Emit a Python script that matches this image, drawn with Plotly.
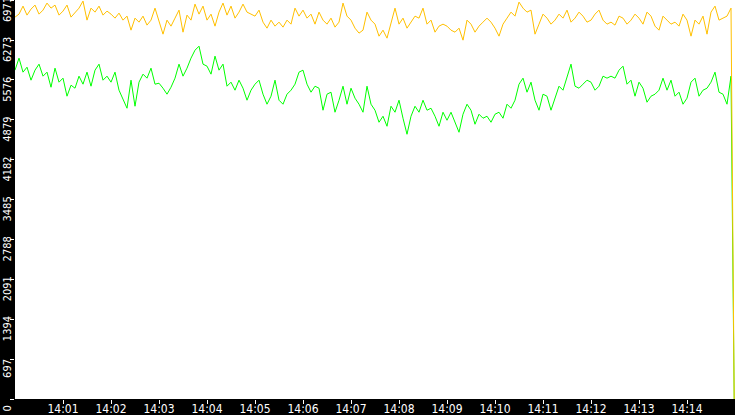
import pandas as pd
import plotly.graph_objects as go

# samples every 5 s from 14:00:00, last sample is the drop to 0
orange_vals = [
    6673, 6725, 6865, 6708, 6813, 6883, 6725, 6795, 6918, 6830, 6883, 6708, 6778, 6883, 6673, 6760, 6830, 6953,
    6620, 6830, 6760, 6865, 6708, 6778, 6725, 6655, 6743, 6620, 6690, 6445, 6655, 6585, 6690, 6533, 6620, 6830,
    6585, 6375, 6620, 6515, 6655, 6795, 6410, 6708, 6620, 6900, 6725, 6865, 6620, 6725, 6515, 6760, 6918, 6708,
    6865, 6655, 6760, 6900, 6760, 6725, 6690, 6795, 6585, 6480, 6620, 6515, 6585, 6498, 6620, 6550, 6830, 6690,
    6795, 6655, 6725, 6550, 6760, 6620, 6550, 6655, 6498, 6585, 6918, 6690, 6620, 6480, 6393, 6445, 6760, 6620,
    6550, 6340, 6445, 6305, 6585, 6830, 6550, 6655, 6480, 6585, 6690, 6655, 6830, 6550, 6620, 6410, 6515, 6550,
    6515, 6445, 6410, 6480, 6270, 6620, 6550, 6410, 6515, 6585, 6655, 6585, 6480, 6340, 6550, 6655, 6760, 6690,
    6935, 6830, 6760, 6795, 6375, 6550, 6725, 6655, 6550, 6620, 6725, 6655, 6795, 6585, 6655, 6760, 6690, 6585,
    6620, 6725, 6795, 6620, 6550, 6585, 6533, 6690, 6655, 6550, 6620, 6725, 6655, 6550, 6760, 6690, 6515, 6445,
    6690, 6620, 6550, 6585, 6515, 6725, 6620, 6340, 6620, 6550, 6690, 6375, 6760, 6865, 6620, 6655, 6690, 6830,
    0,
]
green_vals = [
    5746, 5956, 5711, 5798, 5571, 5746, 5851, 5641, 5711, 5448, 5781, 5536, 5606, 5291, 5483, 5431, 5641, 5501,
    5711, 5466, 5746, 5851, 5571, 5641, 5536, 5711, 5396, 5221, 5081, 5571, 5116, 5536, 5676, 5606, 5781, 5501,
    5518, 5431, 5326, 5448, 5606, 5851, 5641, 5781, 5956, 6095, 6165, 5851, 5816, 5676, 5991, 5746, 5851, 5466,
    5536, 5396, 5571, 5431, 5221, 5396, 5501, 5571, 5326, 5151, 5291, 5571, 5221, 5151, 5326, 5396, 5501, 5711,
    5746, 5501, 5361, 5466, 5431, 5046, 5326, 5361, 5011, 5221, 5466, 5151, 5431, 5256, 5151, 5011, 5466, 5151,
    5046, 4836, 4941, 4766, 5116, 5011, 5221, 4906, 4626, 4941, 5116, 5011, 5221, 5046, 5081, 4941, 4766, 5011,
    4871, 5011, 4836, 4661, 4976, 5151, 5046, 4801, 4976, 4906, 4941, 4836, 4976, 5011, 4906, 5151, 5081, 5221,
    5501, 5606, 5361, 5536, 5221, 5046, 5326, 5291, 5046, 5256, 5466, 5396, 5606, 5851, 5466, 5431, 5501, 5571,
    5536, 5396, 5466, 5641, 5606, 5641, 5606, 5746, 5816, 5501, 5571, 5291, 5536, 5431, 5186, 5291, 5326, 5396,
    5606, 5396, 5571, 5291, 5361, 5151, 5256, 5536, 5606, 5291, 5396, 5431, 5536, 5711, 5361, 5326, 5151, 5641,
    0,
]

y_ticks = [0, 697, 1394, 2091, 2788, 3485, 4182, 4879, 5576, 6273, 6971]
x_ticks = ["14:01", "14:02", "14:03", "14:04", "14:05", "14:06", "14:07",
           "14:08", "14:09", "14:10", "14:11", "14:12", "14:13", "14:14"]

day = "2024-01-01 "
stamps = pd.date_range(day + "14:00:00", periods=len(orange_vals) - 1, freq="5s")
times = [t.strftime("%Y-%m-%d %H:%M:%S") for t in stamps]
times.append(day + "14:14:59")

fig = go.Figure()
fig.add_trace(go.Scatter(x=times, y=green_vals, mode="lines",
                         line=dict(color="#00ff00", width=1)))
fig.add_trace(go.Scatter(x=times, y=orange_vals, mode="lines",
                         line=dict(color="#ffc000", width=1)))

font_family = "Liberation Sans Narrow, DejaVu Sans Condensed, Liberation Sans, sans-serif"

fig.update_layout(
    width=735, height=415,
    margin=dict(l=15, r=0, t=0, b=16),
    paper_bgcolor="black",
    plot_bgcolor="white",
    showlegend=False,
)
fig.update_xaxes(
    type="date",
    range=[day + "14:00:00", day + "14:15:00"],
    tickvals=[day + t + ":00" for t in x_ticks],
    ticktext=x_ticks,
    ticks="outside", ticklen=4, tickcolor="white", tickwidth=1,
    ticklabelstandoff=-5,
    tickfont=dict(family=font_family, size=12, color="white"),
    automargin=False,
    showgrid=False, zeroline=False, showline=False,
)
fig.update_yaxes(
    range=[0, 6972],
    tickvals=y_ticks,
    ticktext=[str(v) for v in y_ticks],
    tickangle=-90,
    ticklabelshift=11,
    ticklabelstandoff=-5,
    ticklabeloverflow="allow",
    ticks="outside", ticklen=4, tickcolor="white", tickwidth=1,
    tickfont=dict(family=font_family, size=11, color="white"),
    automargin=False,
    showgrid=False, zeroline=False, showline=False,
)

# page margin off so the figure sits at the window corner
fig.write_html("out.html", config={"displayModeBar": False},
               post_script="document.body.style.margin='0';")
